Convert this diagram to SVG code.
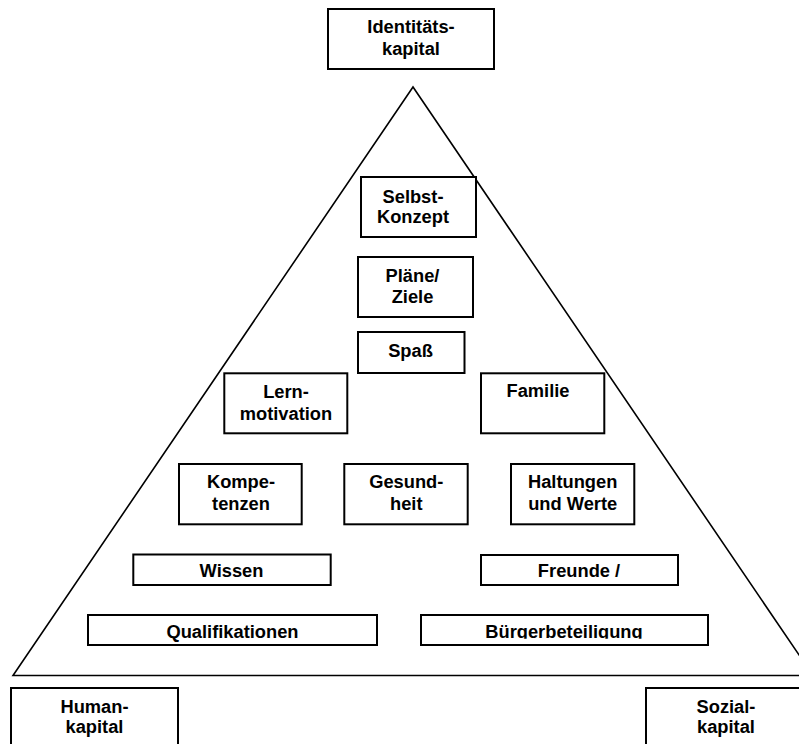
<svg xmlns="http://www.w3.org/2000/svg" width="799" height="744" viewBox="0 0 799 744">
<style>
.box{fill:#fff;stroke:#000;stroke-width:2}
.tri{fill:none;stroke:#000;stroke-width:1.6}
text{font-family:"Liberation Sans",Arial,sans-serif;font-weight:bold;font-size:18.3px;fill:#000;text-anchor:middle}
</style>
<defs>
<clipPath id="clipFreunde"><rect x="481" y="555" width="197" height="22.6"/></clipPath>
<clipPath id="clipBuerger"><rect x="421" y="615" width="287" height="23.8"/></clipPath>
</defs>
<rect width="799" height="744" fill="#fff"/>
<g id="pyramid">
<polygon class="tri" points="413,87 13,675.5 813,675.5"/>
</g>
<g id="connectors"></g>
<g id="identitaetskapital">
<rect class="box" x="328" y="9" width="166" height="60"/>
<text x="411" y="33.3">Identitäts-</text>
<text x="411" y="55">kapital</text>
</g>
<g id="selbstkonzept">
<rect class="box" x="361" y="177" width="115" height="60"/>
<text x="413" y="202.7">Selbst-</text>
<text x="413" y="223.3">Konzept</text>
</g>
<g id="plaene">
<rect class="box" x="358" y="257" width="115" height="60"/>
<text x="412.5" y="281.7">Pläne/</text>
<text x="412.5" y="302.7">Ziele</text>
</g>
<g id="spass">
<rect class="box" x="358" y="332" width="106.5" height="41"/>
<text x="410.5" y="356.7">Spaß</text>
</g>
<g id="lernmotivation">
<rect class="box" x="224.3" y="373.3" width="123" height="60"/>
<text x="286" y="398.3">Lern-</text>
<text x="286" y="420">motivation</text>
</g>
<g id="familie">
<rect class="box" x="481" y="373.3" width="123.3" height="60"/>
<text x="538" y="397.3">Familie</text>
</g>
<g id="kompetenzen">
<rect class="box" x="179" y="464" width="122.7" height="60.3"/>
<text x="241" y="488.3">Kompe-</text>
<text x="241" y="510">tenzen</text>
</g>
<g id="gesundheit">
<rect class="box" x="344.3" y="464" width="123.4" height="60.3"/>
<text x="406.3" y="488.3">Gesund-</text>
<text x="406.3" y="510">heit</text>
</g>
<g id="haltungen">
<rect class="box" x="511" y="464" width="123.3" height="60.3"/>
<text x="572.7" y="488.3">Haltungen</text>
<text x="572.7" y="510">und Werte</text>
</g>
<g id="wissen">
<rect class="box" x="133.3" y="554.5" width="197.4" height="30.5"/>
<text x="231.5" y="577.2">Wissen</text>
</g>
<g id="freunde">
<rect class="box" x="481" y="555" width="197" height="30"/>
<text x="579" y="577" clip-path="url(#clipFreunde)">Freunde /</text>
</g>
<g id="qualifikationen">
<rect class="box" x="88" y="615" width="289" height="30"/>
<text x="232.5" y="638.3">Qualifikationen</text>
</g>
<g id="buergerbeteiligung">
<rect class="box" x="421" y="615" width="287" height="30"/>
<text x="564" y="638.3" clip-path="url(#clipBuerger)">Bürgerbeteiligung</text>
</g>
<g id="humankapital">
<rect class="box" x="11" y="688" width="167" height="70"/>
<text x="94.5" y="713.3">Human-</text>
<text x="94.5" y="732.8">kapital</text>
</g>
<g id="sozialkapital">
<rect class="box" x="646" y="688" width="170" height="70"/>
<text x="726" y="713.3">Sozial-</text>
<text x="726" y="732.8">kapital</text>
</g>
</svg>
